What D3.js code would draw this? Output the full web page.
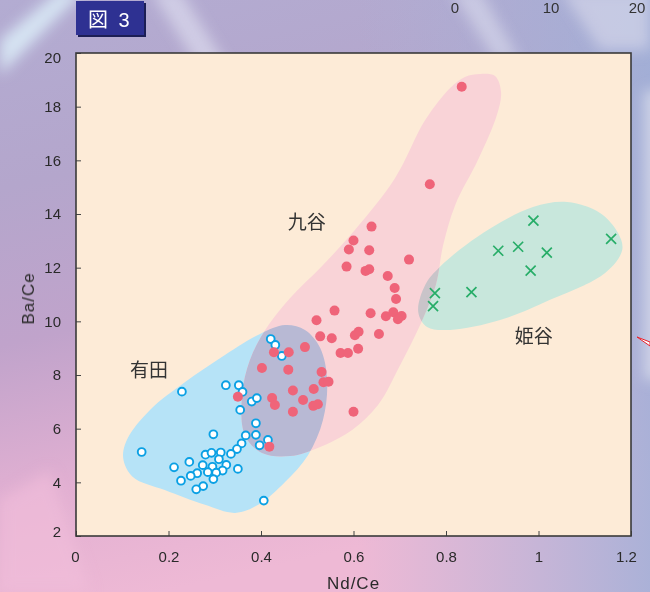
<!DOCTYPE html>
<html>
<head>
<meta charset="utf-8">
<script src="https://cdn.jsdelivr.net/npm/d3@7"></script>
<style>
  html, body { margin: 0; padding: 0; overflow: hidden; background: #b9b0d2; }
  svg { display: block; }
</style>
</head>
<body>
<svg id="chart" width="650" height="592"></svg>
<script>
// Axis ticks
const xTicks = [0, 0.2, 0.4, 0.6, 0.8, 1.0, 1.2];
const xTickLabels = ["0", "0.2", "0.4", "0.6", "0.8", "1", "1.2"];
const yTicks = [2, 4, 6, 8, 10, 12, 14, 16, 18, 20];
const yTickLabels = ["2", "4", "6", "8", "10", "12", "14", "16", "18", "20"];

// 有田 (Arita) samples: [Nd/Ce, Ba/Ce]
const aritaPoints = [
  [0.421, 9.34], [0.431, 9.12], [0.445, 8.71], [0.229, 7.38], [0.324, 7.62],
  [0.352, 7.62], [0.360, 7.37], [0.380, 7.01], [0.391, 7.14], [0.355, 6.70],
  [0.389, 6.20], [0.297, 5.79], [0.367, 5.75], [0.389, 5.77], [0.415, 5.58],
  [0.397, 5.38], [0.142, 5.13], [0.358, 5.45], [0.348, 5.24], [0.335, 5.06],
  [0.280, 5.03], [0.293, 5.10], [0.313, 5.11], [0.309, 4.86], [0.245, 4.76],
  [0.212, 4.56], [0.274, 4.64], [0.295, 4.58], [0.325, 4.65], [0.317, 4.44],
  [0.350, 4.50], [0.262, 4.34], [0.248, 4.24], [0.285, 4.38], [0.303, 4.36],
  [0.297, 4.12], [0.227, 4.06], [0.275, 3.86], [0.260, 3.74], [0.406, 3.32]
];

// 九谷 (Kutani) samples
const kutaniPoints = [
  [0.834, 18.74], [0.765, 15.11], [0.639, 13.53], [0.600, 13.01], [0.590, 12.68],
  [0.634, 12.65], [0.720, 12.30], [0.585, 12.04], [0.626, 11.88], [0.634, 11.94],
  [0.674, 11.69], [0.689, 11.24], [0.692, 10.83], [0.559, 10.40], [0.637, 10.30],
  [0.670, 10.19], [0.686, 10.34], [0.704, 10.20], [0.696, 10.08], [0.520, 10.04],
  [0.528, 9.44], [0.553, 9.37], [0.603, 9.48], [0.611, 9.61], [0.655, 9.53],
  [0.572, 8.82], [0.588, 8.82], [0.610, 8.98], [0.495, 9.04], [0.428, 8.85],
  [0.460, 8.85], [0.402, 8.26], [0.459, 8.20], [0.531, 8.11], [0.535, 7.73],
  [0.546, 7.75], [0.469, 7.42], [0.514, 7.48], [0.424, 7.14], [0.430, 6.88],
  [0.491, 7.07], [0.513, 6.85], [0.523, 6.91], [0.469, 6.63], [0.350, 7.19],
  [0.600, 6.63], [0.418, 5.33]
];

// 姫谷 (Himetani) samples
const himetaniPoints = [
  [0.989, 13.75], [1.157, 13.07], [0.913, 12.63], [0.956, 12.78], [1.018, 12.56],
  [0.983, 11.89], [0.855, 11.09], [0.776, 11.05], [0.772, 10.57]
];

// Field outlines for each kiln group
const aritaRegion = [
  [0.102, 4.91], [0.112, 5.65], [0.160, 6.70], [0.236, 7.74], [0.322, 8.75],
  [0.398, 9.53], [0.452, 9.86], [0.495, 9.68], [0.528, 9.01], [0.543, 7.81],
  [0.534, 6.32], [0.502, 5.02], [0.452, 4.01], [0.394, 3.16], [0.344, 2.86],
  [0.279, 3.16], [0.192, 3.71], [0.123, 4.20]
];
const kutaniRegion = [
  [0.874, 19.22], [0.906, 19.14], [0.919, 18.55], [0.910, 17.69], [0.869, 16.01],
  [0.820, 14.34], [0.794, 12.85], [0.778, 11.35], [0.744, 9.86], [0.701, 8.37],
  [0.653, 6.88], [0.597, 5.95], [0.528, 5.32], [0.463, 4.98], [0.402, 5.09],
  [0.365, 5.76], [0.359, 7.26], [0.376, 8.56], [0.409, 9.68], [0.463, 10.87],
  [0.532, 12.06], [0.603, 13.40], [0.690, 15.34], [0.755, 17.50], [0.809, 18.70],
  [0.841, 19.11]
];
const himetaniRegion = [
  [0.740, 10.35], [0.755, 11.35], [0.787, 12.03], [0.880, 13.29], [0.988, 14.26],
  [1.062, 14.45], [1.133, 14.04], [1.172, 13.29], [1.181, 12.66], [1.144, 11.80],
  [1.025, 10.80], [0.917, 10.05], [0.809, 9.68], [0.759, 9.79]
];

// Group names placed in data space
const groupLabels = [
  { name: "有田", at: [0.158, 7.93] },
  { name: "九谷", at: [0.499, 13.44] },
  { name: "姫谷", at: [0.990, 9.19] }
];

const W = 650, H = 592;
const svg = d3.select("#chart");
const defs = svg.append("defs");

// ---------- page backdrop ----------
const bgGrad = defs.append("linearGradient").attr("id", "bgGrad")
  .attr("x1", 0).attr("y1", 0).attr("x2", 0.25).attr("y2", 1);
[["0%", "#b3acd2"], ["30%", "#b4a6cc"], ["55%", "#c0a3cb"], ["80%", "#e2b0d2"], ["100%", "#eeb9d5"]]
  .forEach(([o, c]) => bgGrad.append("stop").attr("offset", o).attr("stop-color", c));
const sideGrad = defs.append("linearGradient").attr("id", "sideGrad")
  .attr("x1", 0).attr("y1", 0).attr("x2", 1).attr("y2", 0);
[["0%", "#a8b4da", 0], ["55%", "#a8b4da", 0], ["100%", "#9fb0d8", 0.85]]
  .forEach(([o, c, a]) => sideGrad.append("stop").attr("offset", o).attr("stop-color", c).attr("stop-opacity", a));
const blur = defs.append("filter").attr("id", "soft").attr("x", "-50%").attr("y", "-50%").attr("width", "200%").attr("height", "200%");
blur.append("feGaussianBlur").attr("stdDeviation", 7);

svg.append("rect").attr("width", W).attr("height", H).attr("fill", "url(#bgGrad)");
svg.append("rect").attr("width", W).attr("height", H).attr("fill", "url(#sideGrad)");

const streaks = svg.append("g").attr("filter", "url(#soft)");
streaks.append("polygon").attr("points", "0,40 60,-10 85,-10 0,75").attr("fill", "#dff2fb").attr("opacity", 0.8);
streaks.append("polygon").attr("points", "150,-10 180,-10 230,70 200,70").attr("fill", "#e8eaf6").attr("opacity", 0.55);
streaks.append("polygon").attr("points", "450,-10 480,-10 520,60 495,60").attr("fill", "#e6e8f4").attr("opacity", 0.5);
streaks.append("polygon").attr("points", "560,-10 650,-10 650,50 600,50").attr("fill", "#dcdcec").attr("opacity", 0.6);
streaks.append("polygon").attr("points", "0,500 50,470 90,592 0,592").attr("fill", "#f2bedb").attr("opacity", 0.6);
streaks.append("rect").attr("x", 644).attr("y", 90).attr("width", 20).attr("height", 290).attr("fill", "#dfe3ee").attr("opacity", 0.7);

// ---------- scales ----------
const x = d3.scaleLinear().domain([0, 1.2]).range([76, 631]);
const y = d3.scaleLinear().domain([2, 20]).range([536, 53]);

// plot background
svg.append("rect")
  .attr("x", x(0)).attr("y", y(20))
  .attr("width", x(1.2) - x(0)).attr("height", y(2) - y(20))
  .attr("fill", "#fdebd7");

// ---------- field outlines ----------
const blob = d3.line().x(d => x(d[0])).y(d => y(d[1])).curve(d3.curveCatmullRomClosed.alpha(0.5));

defs.append("clipPath").attr("id", "clipArita").append("path").attr("d", blob(aritaRegion));
defs.append("clipPath").attr("id", "clipHime").append("path").attr("d", blob(himetaniRegion));

const fields = svg.append("g");
fields.append("path").attr("d", blob(aritaRegion)).attr("fill", "#b6e3f7");
fields.append("path").attr("d", blob(himetaniRegion)).attr("fill", "#c8e7dc");
fields.append("path").attr("d", blob(kutaniRegion)).attr("fill", "#f9d3d7");
// overlaps of the Kutani field with the other two
fields.append("path").attr("d", blob(kutaniRegion)).attr("fill", "#b8b9d4").attr("clip-path", "url(#clipArita)");
fields.append("path").attr("d", blob(kutaniRegion)).attr("fill", "#c9c4c9").attr("clip-path", "url(#clipHime)");

// ---------- axes (ticks point inward) ----------
const xAxis = d3.axisBottom(x).tickValues(xTicks)
  .tickFormat((d, i) => xTickLabels[i]).tickSize(-5).tickPadding(15);
const yAxis = d3.axisLeft(y).tickValues(yTicks)
  .tickFormat((d, i) => yTickLabels[i]).tickSize(-5).tickPadding(15);

const gx = svg.append("g").attr("transform", `translate(0,${y(2)})`).call(xAxis);
const gy = svg.append("g").attr("transform", `translate(${x(0)},0)`).call(yAxis);
[gx, gy].forEach(g => {
  g.select(".domain").remove();
  g.selectAll(".tick line").attr("stroke", "#444").attr("stroke-width", 1);
  g.selectAll(".tick text")
    .attr("fill", "#2a2a2a")
    .style("font-family", "'Liberation Sans', Arial, sans-serif")
    .style("font-size", "15px");
});
// end labels tucked inside the frame corners
gy.selectAll(".tick text").filter(d => d === 20).attr("y", 5);
gy.selectAll(".tick text").filter(d => d === 2).attr("y", -4);
gx.selectAll(".tick text").filter(d => d === 1.2).attr("x", -5);
gx.selectAll(".tick text").filter(d => d === 0).attr("x", -1);

// plot frame
svg.append("rect")
  .attr("x", x(0)).attr("y", y(20))
  .attr("width", x(1.2) - x(0)).attr("height", y(2) - y(20))
  .attr("fill", "none").attr("stroke", "#3a3a3a").attr("stroke-width", 1.6);

// ---------- points ----------
svg.append("g").selectAll("circle").data(aritaPoints).join("circle")
  .attr("cx", d => x(d[0])).attr("cy", d => y(d[1])).attr("r", 3.9)
  .attr("fill", "#ffffff").attr("stroke", "#0aa0e4").attr("stroke-width", 1.9);

svg.append("g").selectAll("circle").data(kutaniPoints).join("circle")
  .attr("cx", d => x(d[0])).attr("cy", d => y(d[1])).attr("r", 5)
  .attr("fill", "#ef6479");

svg.append("g").selectAll("path").data(himetaniPoints).join("path")
  .attr("d", d => {
    const cx = x(d[0]), cy = y(d[1]), s = 5;
    return `M${cx - s},${cy - s}L${cx + s},${cy + s}M${cx + s},${cy - s}L${cx - s},${cy + s}`;
  })
  .attr("stroke", "#27ad68").attr("stroke-width", 1.7).attr("fill", "none");

// ---------- group names ----------
svg.append("g").selectAll("text").data(groupLabels).join("text")
  .attr("x", d => x(d.at[0])).attr("y", d => y(d.at[1]))
  .attr("text-anchor", "middle")
  .attr("fill", "#333")
  .style("font-family", "'Noto Sans CJK JP', sans-serif")
  .style("font-size", "19px")
  .text(d => d.name);

// ---------- axis titles ----------
svg.append("text")
  .attr("x", (x(0) + x(1.2)) / 2).attr("y", 589)
  .attr("text-anchor", "middle").attr("fill", "#2a2a2a")
  .style("font-family", "'Liberation Sans', Arial, sans-serif")
  .style("font-size", "17px").style("letter-spacing", "1px")
  .text("Nd/Ce");

svg.append("text")
  .attr("transform", `translate(34,${(y(2) + y(20)) / 2 + 4}) rotate(-90)`)
  .attr("text-anchor", "middle").attr("fill", "#2a2a2a")
  .style("font-family", "'Liberation Sans', Arial, sans-serif")
  .style("font-size", "17px").style("letter-spacing", "1px")
  .text("Ba/Ce");

// ---------- figure tag ----------
const tag = svg.append("g");
tag.append("rect").attr("x", 78).attr("y", 3).attr("width", 68).attr("height", 34).attr("fill", "#1c1e55");
tag.append("rect").attr("x", 76).attr("y", 1).attr("width", 68).attr("height", 34).attr("fill", "#2e3192");
tag.append("text").attr("x", 98).attr("y", 27).attr("text-anchor", "middle")
  .attr("fill", "#ffffff")
  .style("font-family", "'Noto Sans CJK JP', sans-serif").style("font-size", "20px")
  .text("図");
tag.append("text").attr("x", 124).attr("y", 27).attr("text-anchor", "middle")
  .attr("fill", "#ffffff")
  .style("font-family", "'Liberation Sans', Arial, sans-serif").style("font-size", "20px")
  .text("3");

// neighbouring scale numbers along the top edge
svg.append("g").selectAll("text").data([["0", 455], ["10", 551], ["20", 637]]).join("text")
  .attr("x", d => d[1]).attr("y", 13).attr("text-anchor", "middle")
  .attr("fill", "#333")
  .style("font-family", "'Liberation Sans', Arial, sans-serif").style("font-size", "15px")
  .text(d => d[0]);

// pointer stub at the right edge
svg.append("path").attr("d", "M637,337 L650,346 L650,342 Z")
  .attr("fill", "#ffffff").attr("stroke", "#e8202a").attr("stroke-width", 1);
</script>
</body>
</html>
